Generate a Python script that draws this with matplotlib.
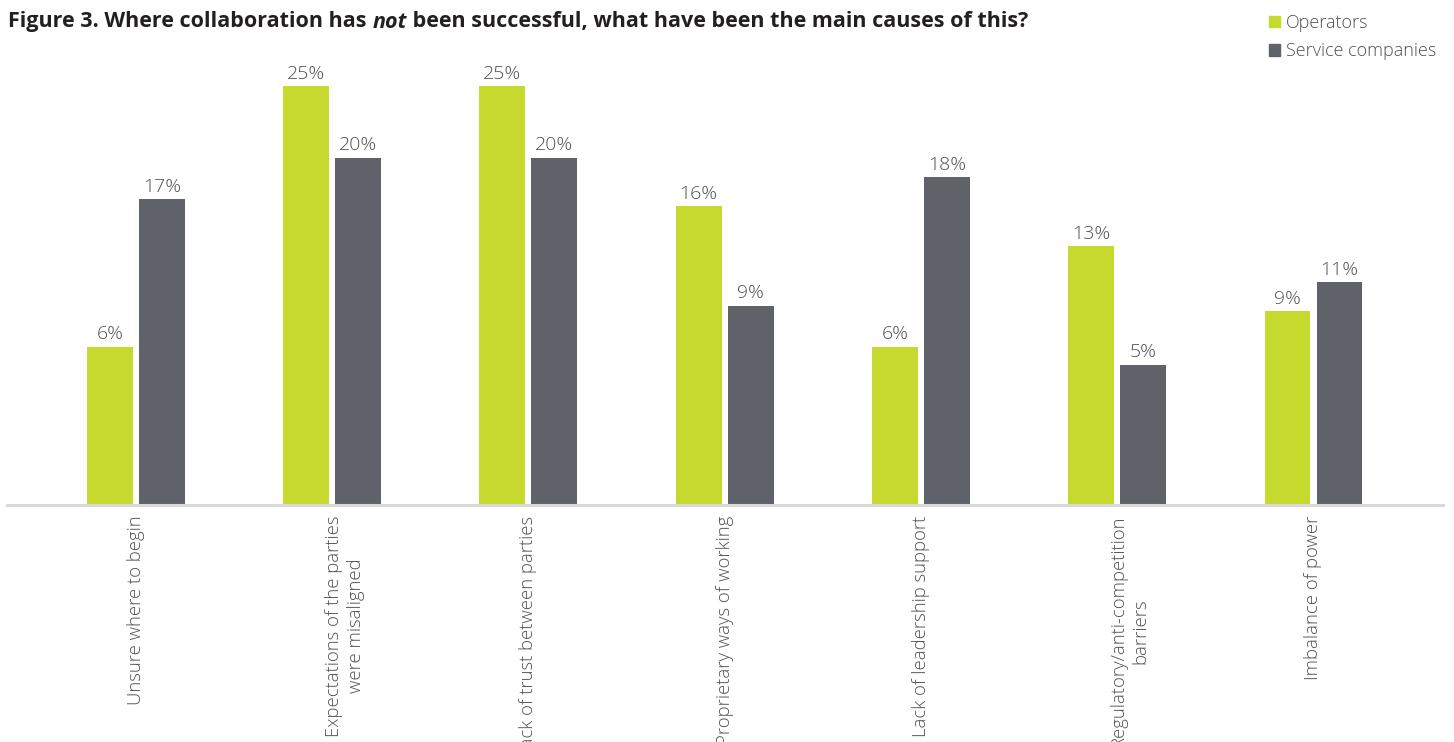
import matplotlib
matplotlib.use("Agg")
import matplotlib.pyplot as plt
from matplotlib.patches import Patch
import numpy as np

categories = [
    "Unsure where to begin",
    "Expectations of the parties\nwere misaligned",
    "Lack of trust between parties",
    "Proprietary ways of working",
    "Lack of leadership support",
    "Regulatory/anti-competition\nbarriers",
    "Imbalance of power",
]
operators = [6.1, 25.0, 25.0, 16.3, 6.1, 13.4, 8.7]
service = [16.8, 19.8, 19.8, 9.1, 18.4, 4.8, 10.8]
series_names = ["Operators", "Service companies"]

GREEN = "#C5D92E"
GREY = "#5F6369"
TEXT = "#4F5052"
YMIN = -5.34

plt.rcParams["font.family"] = ["Open Sans", "DejaVu Sans"]

W, H = 1454, 742
fig = plt.figure(figsize=(W / 100, H / 100), dpi=100)
ax = fig.add_axes([7 / W, 237 / H, 1436 / W, 445 / H])

x = np.arange(len(categories))
bw = 0.234
off = 0.1325
b1 = ax.bar(x - off, np.array(operators) - YMIN, bw, bottom=YMIN, color=GREEN, zorder=2)
b2 = ax.bar(x + off, np.array(service) - YMIN, bw, bottom=YMIN, color=GREY, zorder=2)

for bars, vals in ((b1, operators), (b2, service)):
    for r, v in zip(bars, vals):
        ax.annotate(f"{v:.0f}%", (r.get_x() + r.get_width() / 2, v),
                    xytext=(0, 5.5), textcoords="offset points",
                    ha="center", va="baseline", fontsize=14,
                    color=TEXT, fontweight="light")

ax.set_xlim(-0.657, 6.660)
ax.set_ylim(YMIN, YMIN + 445 / 13.8)
for s in ("top", "right", "left"):
    ax.spines[s].set_visible(False)
ax.spines["bottom"].set_color("#D9D9D9")
ax.spines["bottom"].set_linewidth(2.2)
ax.set_yticks([])
ax.set_xticks([])

# category labels: first line centred on the group, extra lines to the right
LINE_PT = 18.0
for xi, lab in zip(x, categories):
    n = lab.count("\n") + 1
    ax.annotate(lab, (xi, 0), xycoords=ax.get_xaxis_transform(),
                xytext=(0.5 * (n - 1) * LINE_PT, -7.5), textcoords="offset points",
                rotation=90, ha="center", va="top", multialignment="center",
                fontsize=13.3, color=TEXT, fontweight="light",
                linespacing=1.3, annotation_clip=False)

# Title with italic "not"
TY = 1 - 27.5 / H
TS = 15.5
TC = "#231F20"
t1 = fig.text(8 / W, TY, "Figure 3. Where collaboration has ",
              fontsize=TS, fontweight="bold", color=TC, va="baseline")
t2 = fig.text(0, TY, "not", fontsize=TS, fontweight="bold", fontstyle="italic",
              color=TC, va="baseline")
fig.canvas.draw()
r = fig.canvas.get_renderer()
bb = t1.get_window_extent(r)
t2.set_position((bb.x1 / W, TY))
fig.canvas.draw()
bb2 = t2.get_window_extent(r)
fig.text(bb2.x1 / W, TY,
         " been successful, what have been the main causes of this?",
         fontsize=TS, fontweight="bold", color=TC, va="baseline")

handles = [Patch(color=GREEN), Patch(color=GREY)]
fig.legend(handles, series_names, loc="upper left",
           bbox_to_anchor=(1262 / W, 1 - 7 / H), frameon=False,
           handlelength=0.58, handleheight=0.58,
           handletextpad=0.35, labelspacing=0.56, borderaxespad=0,
           labelcolor=TEXT, prop={"weight": "light", "size": 13})

fig.savefig("out.png", dpi=100)
